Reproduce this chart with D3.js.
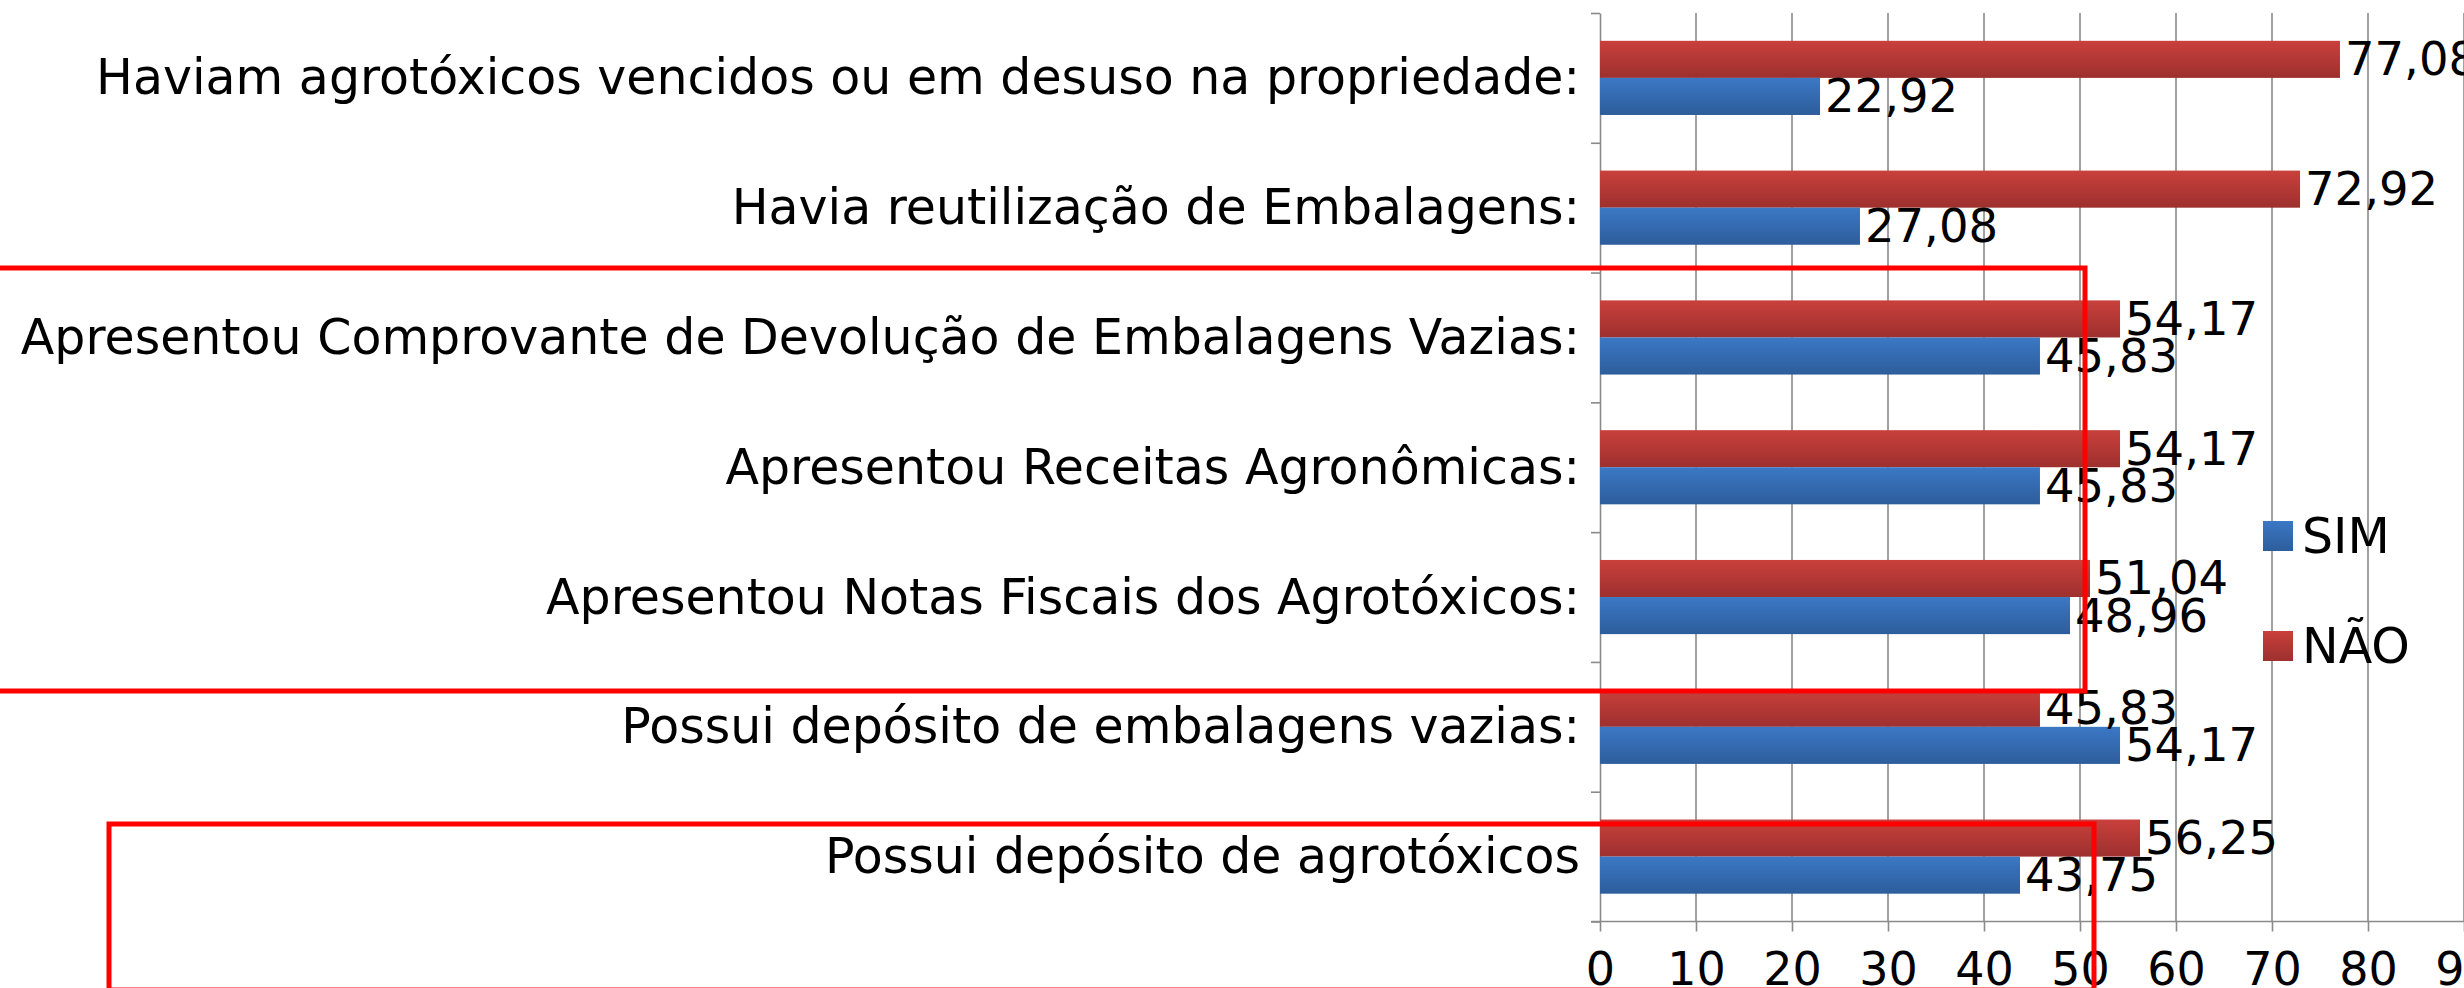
<!DOCTYPE html>
<html>
<head>
<meta charset="utf-8">
<script src="https://cdn.jsdelivr.net/npm/d3@7"></script>
<style>
  html, body { margin: 0; padding: 0; background: #fff; overflow: hidden; }
  svg { display: block; font-family: "DejaVu Sans", sans-serif; }
</style>
</head>
<body>
<div id="chart"></div>
<script>
// Data
const categories = [
  "Haviam agrotóxicos vencidos ou em desuso na propriedade:",
  "Havia reutilização de Embalagens:",
  "Apresentou Comprovante de Devolução de Embalagens Vazias:",
  "Apresentou Receitas Agronômicas:",
  "Apresentou Notas Fiscais dos Agrotóxicos:",
  "Possui depósito de embalagens vazias:",
  "Possui depósito de agrotóxicos"
];
const simValues = [22.92, 27.08, 45.83, 45.83, 48.96, 54.17, 43.75];
const naoValues = [77.08, 72.92, 54.17, 54.17, 51.04, 45.83, 56.25];
const seriesNames = ["SIM", "NÃO"];
const xTicks = [0, 10, 20, 30, 40, 50, 60, 70, 80, 90];

(() => {
  const W = 2464, H = 988;
  const LABEL_FONT = 49;   // category + legend text
  const VALUE_FONT = 46.5; // data labels
  const TICK_FONT = 46;
  const GRID = "#8a8a8a";
  const fmt = v => v.toFixed(2).replace(".", ",");

  const svg = d3.select("#chart").append("svg")
    .attr("width", W).attr("height", H);

  // gradients like the old office bars
  const defs = svg.append("defs");
  const grad = (id, top, bottom) => {
    const g = defs.append("linearGradient").attr("id", id)
      .attr("x1", 0).attr("y1", 0).attr("x2", 0).attr("y2", 1);
    g.append("stop").attr("offset", "0%").attr("stop-color", top);
    g.append("stop").attr("offset", "100%").attr("stop-color", bottom);
  };
  grad("gSim", "#3b78c5", "#2d5d9b");
  grad("gNao", "#c9403c", "#9d302e");
  const fillOf = { "SIM": "url(#gSim)", "NÃO": "url(#gNao)" };

  // scales
  const x = d3.scaleLinear().domain([0, 90]).range([1600, 2464]);
  const y = d3.scaleBand().domain(categories).range([13, 921.5]).paddingInner(0).paddingOuter(0);
  const yInner = d3.scaleBand().domain(["NÃO", "SIM"]).range([0, y.bandwidth()])
    .paddingInner(0).paddingOuter(0.75);
  const yEdges = d3.scaleLinear().domain([0, categories.length]).range([13, 921.5]);

  // gridlines
  svg.append("g").selectAll("line")
    .data(xTicks.slice(1))
    .join("line")
    .attr("x1", d => x(d)).attr("x2", d => x(d))
    .attr("y1", 13).attr("y2", 921.5)
    .attr("stroke", GRID).attr("stroke-width", 1.6);

  // left axis: ticks at category boundaries
  const yAxis = svg.append("g")
    .attr("transform", `translate(${x(0)},0)`)
    .call(d3.axisLeft(yEdges).tickValues(d3.range(categories.length + 1)).tickSize(9).tickSizeOuter(0).tickFormat(""));
  yAxis.select(".domain").attr("stroke", GRID).attr("stroke-width", 1.6);
  yAxis.selectAll(".tick line").attr("stroke", GRID).attr("stroke-width", 1.6);

  // bottom axis
  const xAxis = svg.append("g")
    .attr("transform", `translate(0,921.5)`)
    .call(d3.axisBottom(x).tickValues(xTicks).tickSize(10).tickPadding(20.5).tickSizeOuter(0));
  xAxis.select(".domain").attr("stroke", GRID).attr("stroke-width", 1.6)
    .attr("d", `M${x(0) - 9},0H${x(90)}`);
  xAxis.selectAll(".tick line").attr("stroke", GRID).attr("stroke-width", 1.6);
  xAxis.selectAll(".tick text")
    .attr("font-family", "DejaVu Sans").attr("font-size", TICK_FONT).attr("fill", "#000");

  // category labels
  svg.append("g").selectAll("text")
    .data(categories)
    .join("text")
    .attr("x", 1580)
    .attr("y", d => y(d) + y.bandwidth() / 2)
    .attr("text-anchor", "end")
    .attr("dominant-baseline", "central")
    .attr("font-size", LABEL_FONT)
    .attr("fill", "#000")
    .text(d => d);

  // bars
  const rows = categories.map((c, i) => [
    { cat: c, series: "NÃO", value: naoValues[i] },
    { cat: c, series: "SIM", value: simValues[i] }
  ]).flat();

  svg.append("g").selectAll("rect")
    .data(rows)
    .join("rect")
    .attr("x", x(0))
    .attr("y", d => y(d.cat) + yInner(d.series))
    .attr("width", d => x(d.value) - x(0))
    .attr("height", yInner.bandwidth())
    .attr("fill", d => fillOf[d.series]);

  // data labels
  svg.append("g").selectAll("text")
    .data(rows)
    .join("text")
    .attr("x", d => x(d.value) + 5)
    .attr("y", d => y(d.cat) + yInner(d.series) + yInner.bandwidth() / 2)
    .attr("dominant-baseline", "central")
    .attr("font-size", VALUE_FONT)
    .attr("fill", "#000")
    .text(d => fmt(d.value));

  // legend
  const legendY = { "SIM": 521, "NÃO": 631 };
  const lg = svg.append("g").selectAll("g")
    .data(seriesNames)
    .join("g")
    .attr("transform", d => `translate(2263,${legendY[d]})`);
  lg.append("rect").attr("width", 30).attr("height", 30).attr("fill", d => fillOf[d]);
  lg.append("text")
    .attr("x", 39).attr("y", 15)
    .attr("dominant-baseline", "central")
    .attr("font-size", LABEL_FONT)
    .attr("fill", "#000")
    .text(d => d);

  // red highlight boxes drawn over the chart
  const boxes = [
    { x0: -10, y0: 268, x1: 2085, y1: 691 },
    { x0: 109, y0: 824, x1: 2094, y1: 990 }
  ];
  svg.append("g").selectAll("rect")
    .data(boxes)
    .join("rect")
    .attr("x", d => d.x0).attr("y", d => d.y0)
    .attr("width", d => d.x1 - d.x0).attr("height", d => d.y1 - d.y0)
    .attr("fill", "none")
    .attr("stroke", "#ff0000")
    .attr("stroke-width", 5);
})();
</script>
</body>
</html>
